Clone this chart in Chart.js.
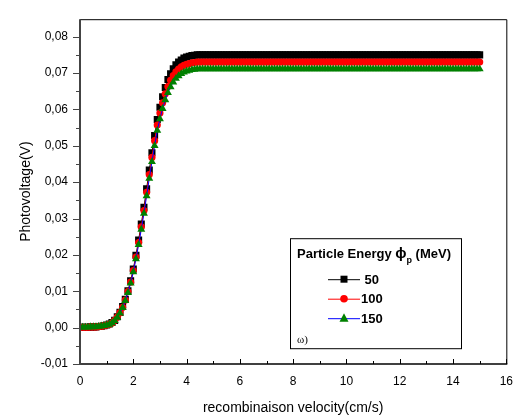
<!DOCTYPE html>
<html>
<head>
<meta charset="utf-8">
<title>Photovoltage vs recombination velocity</title>
<script src="https://cdn.jsdelivr.net/npm/chart.js@4.4.1/dist/chart.umd.min.js"></script>
<style>
  html, body { margin: 0; padding: 0; background: #fff; }
  canvas { display: block; }
</style>
</head>
<body>
<canvas id="pvChart" width="523" height="418"></canvas>
<script>
// junction recombination velocity (cm/s)
var velocity = [
  0, 0.1, 0.2, 0.3, 0.4, 0.5, 0.6, 0.7, 0.8, 0.9,
  1, 1.1, 1.2, 1.3, 1.4, 1.5, 1.6, 1.7, 1.8, 1.9,
  2, 2.1, 2.2, 2.3, 2.4, 2.5, 2.6, 2.7, 2.8, 2.9,
  3, 3.1, 3.2, 3.3, 3.4, 3.5, 3.6, 3.7, 3.8, 3.9,
  4, 4.1, 4.2, 4.3, 4.4, 4.5, 4.6, 4.7, 4.8, 4.9,
  5, 5.1, 5.2, 5.3, 5.4, 5.5, 5.6, 5.7, 5.8, 5.9,
  6, 6.1, 6.2, 6.3, 6.4, 6.5, 6.6, 6.7, 6.8, 6.9,
  7, 7.1, 7.2, 7.3, 7.4, 7.5, 7.6, 7.7, 7.8, 7.9,
  8, 8.1, 8.2, 8.3, 8.4, 8.5, 8.6, 8.7, 8.8, 8.9,
  9, 9.1, 9.2, 9.3, 9.4, 9.5, 9.6, 9.7, 9.8, 9.9,
  10, 10.1, 10.2, 10.3, 10.4, 10.5, 10.6, 10.7, 10.8, 10.9,
  11, 11.1, 11.2, 11.3, 11.4, 11.5, 11.6, 11.7, 11.8, 11.9,
  12, 12.1, 12.2, 12.3, 12.4, 12.5, 12.6, 12.7, 12.8, 12.9,
  13, 13.1, 13.2, 13.3, 13.4, 13.5, 13.6, 13.7, 13.8, 13.9,
  14, 14.1, 14.2, 14.3, 14.4, 14.5, 14.6, 14.7, 14.8, 14.9,
  15
];

// photovoltage (V) for particle energy 50 MeV
var pv50 = [
  0.0001, 0.0001, 0.0001, 0.0001, 0.0002, 0.0002, 0.0002, 0.0003, 0.0004, 0.0005,
  0.0007, 0.0010, 0.0014, 0.0020, 0.0030, 0.0042, 0.0058, 0.0078, 0.0101, 0.0129,
  0.0161, 0.0199, 0.0241, 0.0285, 0.0331, 0.0382, 0.0433, 0.0481, 0.0528, 0.0572,
  0.0606, 0.0635, 0.0660, 0.0682, 0.0698, 0.0712, 0.0723, 0.0730, 0.0736, 0.0741,
  0.0744, 0.0746, 0.0748, 0.0749, 0.0750, 0.0750, 0.0750, 0.0750, 0.0750, 0.0750,
  0.0750, 0.0750, 0.0750, 0.0750, 0.0750, 0.0750, 0.0750, 0.0750, 0.0750, 0.0750,
  0.0750, 0.0750, 0.0750, 0.0750, 0.0750, 0.0750, 0.0750, 0.0750, 0.0750, 0.0750,
  0.0750, 0.0750, 0.0750, 0.0750, 0.0750, 0.0750, 0.0750, 0.0750, 0.0750, 0.0750,
  0.0750, 0.0750, 0.0750, 0.0750, 0.0750, 0.0750, 0.0750, 0.0750, 0.0750, 0.0750,
  0.0750, 0.0750, 0.0750, 0.0750, 0.0750, 0.0750, 0.0750, 0.0750, 0.0750, 0.0750,
  0.0750, 0.0750, 0.0750, 0.0750, 0.0750, 0.0750, 0.0750, 0.0750, 0.0750, 0.0750,
  0.0750, 0.0750, 0.0750, 0.0750, 0.0750, 0.0750, 0.0750, 0.0750, 0.0750, 0.0750,
  0.0750, 0.0750, 0.0750, 0.0750, 0.0750, 0.0750, 0.0750, 0.0750, 0.0750, 0.0750,
  0.0750, 0.0750, 0.0750, 0.0750, 0.0750, 0.0750, 0.0750, 0.0750, 0.0750, 0.0750,
  0.0750, 0.0750, 0.0750, 0.0750, 0.0750, 0.0750, 0.0750, 0.0750, 0.0750, 0.0750,
  0.0750
];

// photovoltage (V) for particle energy 100 MeV
var pv100 = [
  0.0001, 0.0001, 0.0001, 0.0001, 0.0002, 0.0002, 0.0002, 0.0003, 0.0004, 0.0005,
  0.0007, 0.0009, 0.0013, 0.0020, 0.0029, 0.0041, 0.0056, 0.0076, 0.0099, 0.0125,
  0.0157, 0.0194, 0.0234, 0.0277, 0.0322, 0.0372, 0.0421, 0.0468, 0.0514, 0.0557,
  0.0590, 0.0618, 0.0643, 0.0663, 0.0680, 0.0693, 0.0703, 0.0711, 0.0717, 0.0721,
  0.0724, 0.0726, 0.0728, 0.0729, 0.0730, 0.0730, 0.0730, 0.0730, 0.0730, 0.0730,
  0.0730, 0.0730, 0.0730, 0.0730, 0.0730, 0.0730, 0.0730, 0.0730, 0.0730, 0.0730,
  0.0730, 0.0730, 0.0730, 0.0730, 0.0730, 0.0730, 0.0730, 0.0730, 0.0730, 0.0730,
  0.0730, 0.0730, 0.0730, 0.0730, 0.0730, 0.0730, 0.0730, 0.0730, 0.0730, 0.0730,
  0.0730, 0.0730, 0.0730, 0.0730, 0.0730, 0.0730, 0.0730, 0.0730, 0.0730, 0.0730,
  0.0730, 0.0730, 0.0730, 0.0730, 0.0730, 0.0730, 0.0730, 0.0730, 0.0730, 0.0730,
  0.0730, 0.0730, 0.0730, 0.0730, 0.0730, 0.0730, 0.0730, 0.0730, 0.0730, 0.0730,
  0.0730, 0.0730, 0.0730, 0.0730, 0.0730, 0.0730, 0.0730, 0.0730, 0.0730, 0.0730,
  0.0730, 0.0730, 0.0730, 0.0730, 0.0730, 0.0730, 0.0730, 0.0730, 0.0730, 0.0730,
  0.0730, 0.0730, 0.0730, 0.0730, 0.0730, 0.0730, 0.0730, 0.0730, 0.0730, 0.0730,
  0.0730, 0.0730, 0.0730, 0.0730, 0.0730, 0.0730, 0.0730, 0.0730, 0.0730, 0.0730,
  0.0730
];

// photovoltage (V) for particle energy 150 MeV
var pv150 = [
  0.0001, 0.0001, 0.0001, 0.0001, 0.0002, 0.0002, 0.0002, 0.0003, 0.0004, 0.0005,
  0.0007, 0.0009, 0.0013, 0.0019, 0.0028, 0.0040, 0.0055, 0.0074, 0.0096, 0.0122,
  0.0153, 0.0189, 0.0228, 0.0270, 0.0314, 0.0362, 0.0410, 0.0456, 0.0500, 0.0542,
  0.0574, 0.0602, 0.0626, 0.0646, 0.0662, 0.0675, 0.0685, 0.0692, 0.0698, 0.0702,
  0.0705, 0.0707, 0.0709, 0.0710, 0.0711, 0.0711, 0.0711, 0.0711, 0.0711, 0.0711,
  0.0711, 0.0711, 0.0711, 0.0711, 0.0711, 0.0711, 0.0711, 0.0711, 0.0711, 0.0711,
  0.0711, 0.0711, 0.0711, 0.0711, 0.0711, 0.0711, 0.0711, 0.0711, 0.0711, 0.0711,
  0.0711, 0.0711, 0.0711, 0.0711, 0.0711, 0.0711, 0.0711, 0.0711, 0.0711, 0.0711,
  0.0711, 0.0711, 0.0711, 0.0711, 0.0711, 0.0711, 0.0711, 0.0711, 0.0711, 0.0711,
  0.0711, 0.0711, 0.0711, 0.0711, 0.0711, 0.0711, 0.0711, 0.0711, 0.0711, 0.0711,
  0.0711, 0.0711, 0.0711, 0.0711, 0.0711, 0.0711, 0.0711, 0.0711, 0.0711, 0.0711,
  0.0711, 0.0711, 0.0711, 0.0711, 0.0711, 0.0711, 0.0711, 0.0711, 0.0711, 0.0711,
  0.0711, 0.0711, 0.0711, 0.0711, 0.0711, 0.0711, 0.0711, 0.0711, 0.0711, 0.0711,
  0.0711, 0.0711, 0.0711, 0.0711, 0.0711, 0.0711, 0.0711, 0.0711, 0.0711, 0.0711,
  0.0711, 0.0711, 0.0711, 0.0711, 0.0711, 0.0711, 0.0711, 0.0711, 0.0711, 0.0711,
  0.0711
];

var energies = [50, 100, 150];
var xTicks = [0, 2, 4, 6, 8, 10, 12, 14, 16];
var yTicks = [-0.01, 0, 0.01, 0.02, 0.03, 0.04, 0.05, 0.06, 0.07, 0.08];

var FONT = '"Liberation Sans", Arial, sans-serif';
Chart.defaults.font.family = FONT;
Chart.defaults.color = '#000';

function toPoints(ys) {
  return velocity.map(function(v, i) { return { x: v, y: ys[i] }; });
}

// line + marker look per series (line colour, marker colour, marker shape)
var looks = [
  { line: '#000000', fill: '#000000', shape: 'rect', radius: 5, order: 3 },
  { line: '#ff0000', fill: '#ff0000', shape: 'circle', radius: 3.6, order: 2 },
  { line: '#0000ff', fill: '#008000', shape: 'triangle', radius: 4.6, order: 1 }
];
var series = [pv50, pv100, pv150];

// draws the axis frame, tick marks and the boxed legend
var framePlugin = {
  id: 'frame',
  afterDraw: function(chart) {
    var ctx = chart.ctx, a = chart.chartArea;
    var xs = chart.scales.x, ys = chart.scales.y;
    ctx.save();

    // top and right border
    ctx.strokeStyle = '#000';
    ctx.lineWidth = 1;
    ctx.beginPath();
    ctx.moveTo(a.left, a.top + 0.5); ctx.lineTo(a.right + 0.5, a.top + 0.5);
    ctx.lineTo(a.right + 0.5, a.bottom);
    ctx.stroke();

    // bottom axis with inward ticks
    ctx.lineWidth = 1.5;
    ctx.beginPath();
    ctx.moveTo(a.left, a.bottom); ctx.lineTo(a.right + 1, a.bottom);
    ctx.stroke();
    ctx.lineWidth = 1;
    ctx.beginPath();
    for (var v = xTicks[0]; v <= xTicks[xTicks.length - 1]; v += 1) {
      var px = Math.round(xs.getPixelForValue(v)) + 0.5;
      var len = (v % 2 === 0) ? 5 : 3;
      ctx.moveTo(px, a.bottom); ctx.lineTo(px, a.bottom - len);
    }
    ctx.stroke();

    // left axis with outward ticks
    ctx.strokeStyle = '#444';
    ctx.lineWidth = 2;
    ctx.beginPath();
    ctx.moveTo(a.left, a.top); ctx.lineTo(a.left, a.bottom + 1);
    ctx.stroke();
    ctx.lineWidth = 1;
    ctx.beginPath();
    for (var i = 0; i < yTicks.length; i++) {
      var py = Math.round(ys.getPixelForValue(yTicks[i])) + 0.5;
      ctx.moveTo(a.left - 7, py); ctx.lineTo(a.left, py);
      if (i < yTicks.length - 1) {
        var pm = Math.round(ys.getPixelForValue((yTicks[i] + yTicks[i + 1]) / 2)) + 0.5;
        ctx.moveTo(a.left - 4, pm); ctx.lineTo(a.left, pm);
      }
    }
    ctx.stroke();

    // legend box
    var bx = a.left + 210, by = a.top + 219, bw = 171, bh = 110;
    ctx.fillStyle = '#fff';
    ctx.fillRect(bx, by, bw, bh);
    ctx.strokeStyle = '#000';
    ctx.strokeRect(bx + 0.5, by + 0.5, bw, bh);

    ctx.fillStyle = '#000';
    ctx.textBaseline = 'alphabetic';
    ctx.textAlign = 'left';
    var tx = bx + 7, ty = by + 20;
    ctx.font = 'bold 13px ' + FONT;
    ctx.fillText('Particle Energy ', tx, ty);
    tx += ctx.measureText('Particle Energy ').width;
    ctx.font = 'bold 15px ' + FONT;
    ctx.fillText('\u03D5', tx, ty);
    tx += ctx.measureText('\u03D5').width;
    ctx.font = 'bold 9px ' + FONT;
    ctx.fillText('p', tx, ty + 5);
    tx += ctx.measureText('p').width;
    ctx.font = 'bold 13px ' + FONT;
    ctx.fillText(' (MeV)', tx, ty);

    for (var k = 0; k < energies.length; k++) {
      var cy = by + 41 + k * 19.5;
      var cx = bx + 54;
      ctx.strokeStyle = looks[k].line;
      ctx.lineWidth = 1;
      ctx.beginPath();
      ctx.moveTo(bx + 38, cy + 0.5); ctx.lineTo(bx + 70, cy + 0.5);
      ctx.stroke();
      ctx.fillStyle = looks[k].fill;
      ctx.beginPath();
      if (looks[k].shape === 'rect') {
        ctx.rect(cx - 3.5, cy - 3.5, 7, 7);
      } else if (looks[k].shape === 'circle') {
        ctx.arc(cx, cy, 3.8, 0, Math.PI * 2);
      } else {
        ctx.moveTo(cx, cy - 5);
        ctx.lineTo(cx + 4.5, cy + 3.5);
        ctx.lineTo(cx - 4.5, cy + 3.5);
        ctx.closePath();
      }
      ctx.fill();
      ctx.fillStyle = '#000';
      ctx.font = 'bold 13px ' + FONT;
      ctx.textBaseline = 'middle';
      ctx.fillText(String(energies[k]).padStart(3, ' '), bx + 71, cy + 1);
    }

    ctx.font = '11px "Liberation Serif", "DejaVu Serif", serif';
    ctx.textBaseline = 'middle';
    ctx.fillText('\u03C9)', bx + 7, by + 102);

    ctx.restore();
  }
};

var ctx = document.getElementById('pvChart').getContext('2d');
var pvChart = new Chart(ctx, {
  type: 'line',
  data: {
    datasets: series.map(function(ys, k) {
      return {
        label: String(energies[k]),
        data: toPoints(ys),
        borderColor: looks[k].line,
        borderWidth: 1,
        backgroundColor: looks[k].fill,
        pointStyle: looks[k].shape,
        pointRadius: looks[k].radius,
        pointBackgroundColor: looks[k].fill,
        pointBorderColor: looks[k].fill,
        pointBorderWidth: 0,
        tension: 0,
        fill: false,
        order: looks[k].order
      };
    })
  },
  options: {
    responsive: false,
    animation: false,
    devicePixelRatio: 1,
    layout: { padding: { top: 8, right: 9, left: 0, bottom: 0 } },
    plugins: {
      legend: { display: false },
      tooltip: { enabled: false }
    },
    scales: {
      x: {
        type: 'linear',
        min: 0,
        max: 16,
        grid: { display: false, drawTicks: false },
        border: { display: false },
        afterBuildTicks: function(s) {
          s.ticks = xTicks.map(function(v) { return { value: v }; });
        },
        afterFit: function(s) { s.height = 54; },
        ticks: {
          padding: 10,
          maxRotation: 0,
          font: { size: 12 },
          color: '#000',
          callback: function(v) { return String(v); }
        },
        title: {
          display: true,
          text: 'recombinaison velocity(cm/s)',
          font: { size: 14 },
          color: '#000',
          padding: { top: 0, bottom: 1 }
        }
      },
      y: {
        type: 'linear',
        min: -0.01,
        max: 0.0848,
        grid: { display: false, drawTicks: false },
        border: { display: false },
        afterBuildTicks: function(s) {
          s.ticks = yTicks.map(function(v) { return { value: v }; });
        },
        afterFit: function(s) { s.width = 80; },
        ticks: {
          padding: 12,
          font: { size: 12 },
          color: '#000',
          callback: function(v) { return v.toFixed(2).replace('.', ','); }
        },
        title: {
          display: true,
          text: 'Photovoltage(V)',
          font: { size: 14 },
          color: '#000',
          padding: { top: 18, bottom: 0 }
        }
      }
    }
  },
  plugins: [framePlugin]
});
</script>
</body>
</html>
